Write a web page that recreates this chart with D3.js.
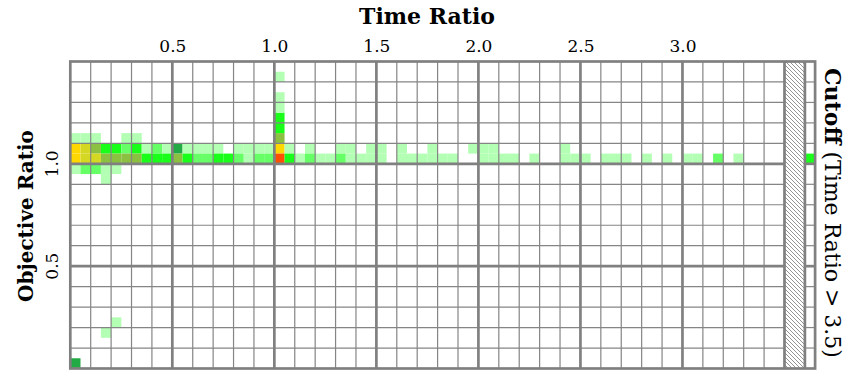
<!DOCTYPE html>
<html>
<head>
<meta charset="utf-8">
<script src="https://cdn.jsdelivr.net/npm/d3@7"></script>
<style>
  body { margin: 0; background: #fff; }
  text { font-family: "DejaVu Serif", serif; fill: #000; }
</style>
</head>
<body>
<div id="chart"></div>
<script>
// run counts per 0.05 x 0.05 bin, indexed by time-ratio bin (0.00, 0.05, 0.10, ...)
const row110 = [1, 1, 1, 0, 0, 1, 1];                       // objective 1.10-1.15
const row105 = [25, 14, 8, 3, 3, 2, 3, 1, 2, 1, 5, 1, 1, 1, 1, 0, 1, 1, 1, 1,
                25, 1, 0, 1, 0, 0, 1, 1, 0, 1, 1, 0, 1, 0, 0, 1, 0, 0, 0, 1,
                1, 1, 0, 0, 0, 0, 0, 0, 1];                  // objective 1.05-1.10
const row100 = [25, 14, 14, 8, 8, 8, 8, 3, 3, 3, 8, 3, 2, 2, 3, 3, 2, 1, 2, 2,
                45, 3, 1, 2, 1, 1, 2, 1, 1, 1, 1, 0, 1, 1, 1, 1, 1, 1, 0, 0,
                1, 1, 1, 1, 0, 1, 0, 0, 1, 1, 1, 0, 1, 1, 1, 0, 1, 0, 1, 0,
                1, 1, 0, 2, 0, 1];                           // objective 1.00-1.05
const row095 = [1, 2, 2, 1, 1];                              // objective 0.95-1.00
const row090 = [0, 0, 0, 1];                                 // objective 0.90-0.95
// time ratio 1.00-1.05, objective 1.10 upwards
const col100 = [8, 3, 3, 1, 1, 0, 1];
// stray runs near the origin
const lowTime = [0.00, 0.15, 0.20];
const lowObj = [0.00, 0.15, 0.20];
const lowCount = [5, 1, 1];
// runs past the time cutoff, by objective bin
const cutoffObj = [1.00];
const cutoffCount = [3];

const xTicks = [0.5, 1.0, 1.5, 2.0, 2.5, 3.0];
const yTicks = [0.5, 1.0];

const bin = 0.05;
const cutoffX = 3.6;   // the hatched gap sits between 3.5 and 3.6

const cells = [];
function addRow(arr, obj) {
  arr.forEach((n, i) => { if (n > 0) cells.push({ t: i * bin, o: obj, n }); });
}
addRow(row110, 1.10);
addRow(row105, 1.05);
addRow(row100, 1.00);
addRow(row095, 0.95);
addRow(row090, 0.90);
col100.forEach((n, k) => { if (n > 0) cells.push({ t: 1.0, o: 1.10 + k * bin, n }); });
lowTime.forEach((t, k) => cells.push({ t, o: lowObj[k], n: lowCount[k] }));
cutoffObj.forEach((o, k) => cells.push({ t: cutoffX, o, n: cutoffCount[k] }));

const color = d3.scaleThreshold()
  .domain([2, 3, 5, 8, 12, 20, 40])
  .range(["#b3ffb3", "#66ff66", "#1aff1a", "#22aa44", "#8bc040", "#d4d823", "#ffd700", "#ff5000"]);

const W = 846, H = 371;
const x = d3.scaleLinear().domain([0, 3.65]).range([70.3, 815.1]);
const y = d3.scaleLinear().domain([0, 1.5]).range([368.5, 61.5]);

const svg = d3.select("#chart").append("svg")
  .attr("width", W)
  .attr("height", H);

const defs = svg.append("defs");
const pat = defs.append("pattern")
  .attr("id", "hatch")
  .attr("patternUnits", "userSpaceOnUse")
  .attr("width", 4).attr("height", 4);
pat.append("path")
  .attr("d", "M-1,-1L5,5M-1,3L1,5M3,-1L5,1")
  .attr("stroke", "#777")
  .attr("stroke-width", 0.8);

// cells
svg.append("g").selectAll("rect")
  .data(cells)
  .join("rect")
  .attr("x", d => x(d.t))
  .attr("y", d => y(d.o + bin))
  .attr("width", d => x(d.t + bin) - x(d.t))
  .attr("height", d => y(d.o) - y(d.o + bin))
  .attr("fill", d => color(d.n));

// hatched gap
svg.append("rect")
  .attr("x", x(3.5)).attr("y", y(1.5))
  .attr("width", x(cutoffX) - x(3.5))
  .attr("height", y(0) - y(1.5))
  .attr("fill", "url(#hatch)");

const grid = svg.append("g").attr("fill", "none");
const isMajor = v => Math.abs(v * 2 - Math.round(v * 2)) < 1e-6;
const minorX = d3.range(1, 35).map(k => k / 10).filter(v => !isMajor(v));
const minorY = d3.range(1, 15).map(k => k / 10).filter(v => !isMajor(v));
const majorX = [...xTicks, 3.5, cutoffX];
const majorY = yTicks;

grid.selectAll(".mx").data(minorX).join("line")
  .attr("x1", d => x(d)).attr("x2", d => x(d))
  .attr("y1", y(0)).attr("y2", y(1.5))
  .attr("stroke", "#858585").attr("stroke-width", 1.2);

[[0, 3.5], [cutoffX, 3.65]].forEach(([a, b]) => {
  grid.append("g").selectAll("line").data(minorY).join("line")
    .attr("x1", x(a)).attr("x2", x(b))
    .attr("y1", d => y(d)).attr("y2", d => y(d))
    .attr("stroke", "#858585").attr("stroke-width", 1.2);
  grid.append("g").selectAll("line").data(majorY).join("line")
    .attr("x1", x(a)).attr("x2", x(b))
    .attr("y1", d => y(d)).attr("y2", d => y(d))
    .attr("stroke", "#808080").attr("stroke-width", 2.7);
});

grid.selectAll(".Mx").data(majorX).join("line")
  .attr("x1", d => x(d)).attr("x2", d => x(d))
  .attr("y1", y(0)).attr("y2", y(1.5))
  .attr("stroke", "#808080").attr("stroke-width", 2.7);

grid.append("rect")
  .attr("x", x(0)).attr("y", y(1.5))
  .attr("width", x(3.65) - x(0))
  .attr("height", y(0) - y(1.5))
  .attr("stroke", "#808080").attr("stroke-width", 2.7);

// top axis labels
const ax = svg.append("g")
  .attr("transform", `translate(0,${y(1.5)})`)
  .call(d3.axisTop(x).tickValues(xTicks).tickFormat(d3.format(".1f")).tickSize(0).tickPadding(9.5));
ax.select(".domain").remove();
ax.selectAll("text")
  .attr("font-family", "DejaVu Serif, serif")
  .attr("font-size", 17);

// left axis labels, rotated
svg.append("g").selectAll("text")
  .data(yTicks)
  .join("text")
  .attr("transform", d => `translate(58,${y(d)}) rotate(-90)`)
  .attr("text-anchor", "middle")
  .attr("font-size", 17)
  .text(d3.format(".1f"));

svg.append("text")
  .attr("x", 427).attr("y", 24)
  .attr("text-anchor", "middle")
  .attr("font-size", 22)
  .attr("font-weight", "bold")
  .text("Time Ratio");

svg.append("text")
  .attr("transform", "translate(33,216) rotate(-90)")
  .attr("text-anchor", "middle")
  .attr("font-size", 20)
  .attr("font-weight", "bold")
  .text("Objective Ratio");

const cut = svg.append("text")
  .attr("transform", "translate(825,213) rotate(90)")
  .attr("text-anchor", "middle")
  .attr("font-size", 22);
cut.append("tspan").attr("font-weight", "bold").text("Cutoff");
cut.append("tspan").text(" (Time Ratio > 3.5)");
</script>
</body>
</html>
